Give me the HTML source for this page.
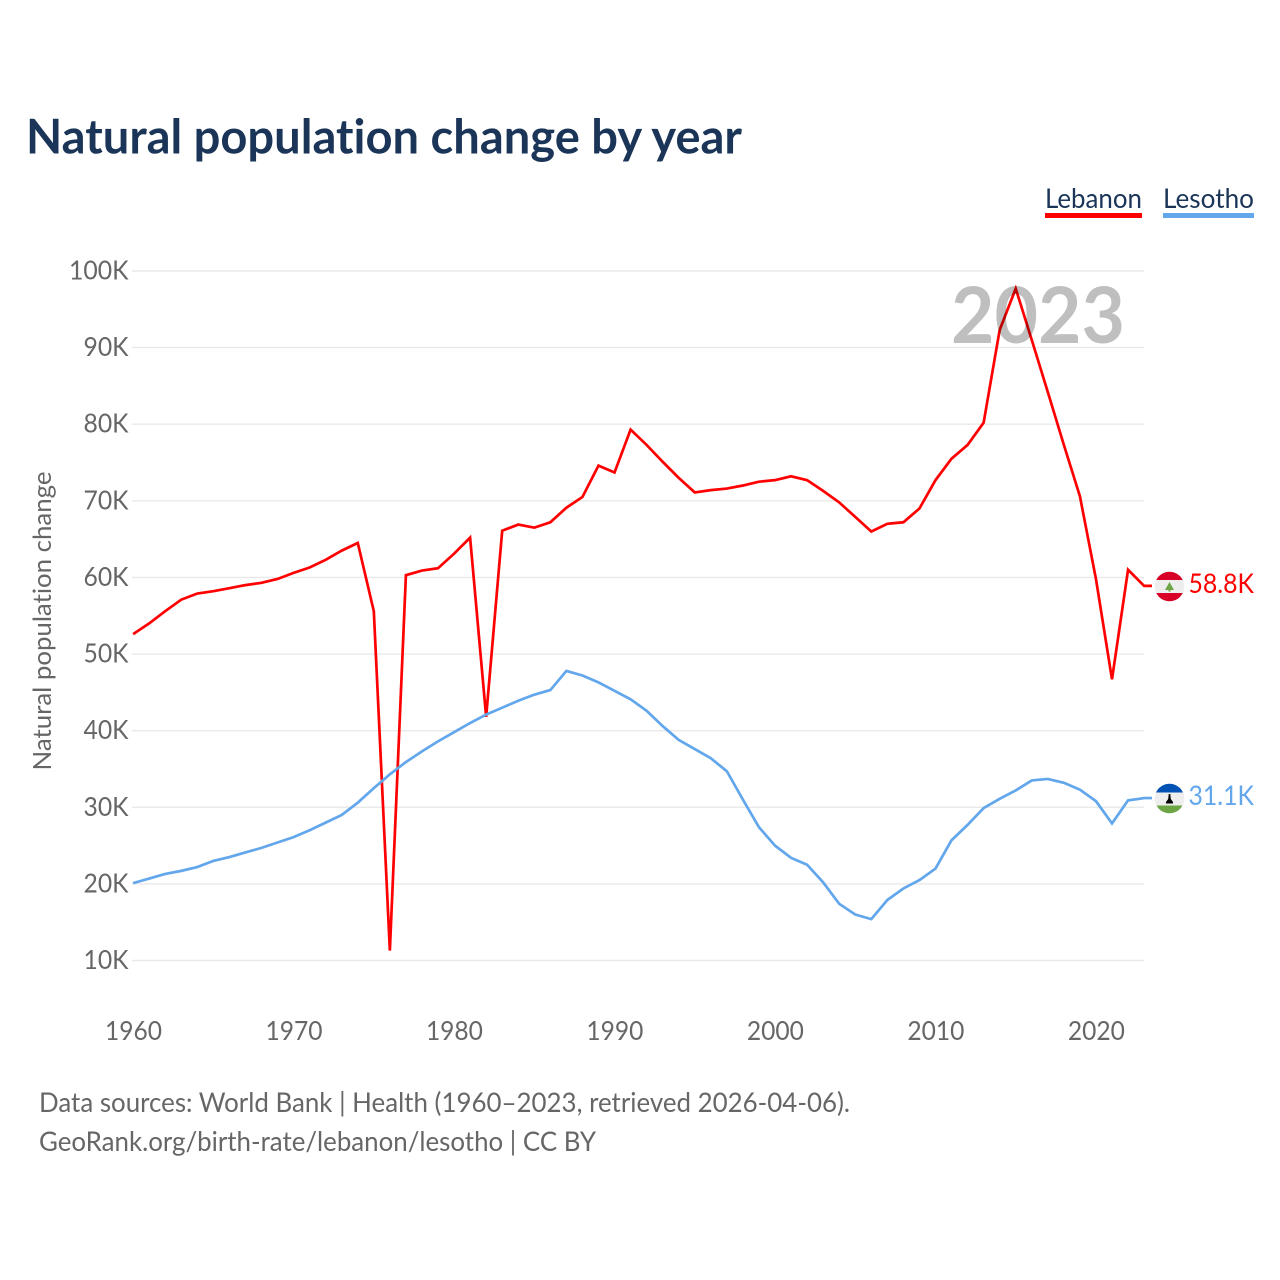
<!DOCTYPE html>
<html lang="en">
<head>
<meta charset="utf-8">
<title>Natural population change by year</title>
<style>
html,body{margin:0;padding:0;background:#fff;width:1280px;height:1280px;overflow:hidden}
svg{display:block}
text{font-family:"Lato","Carlito","Liberation Sans",sans-serif;font-variant-ligatures:none;font-feature-settings:"liga" 0,"clig" 0}
</style>
</head>
<body>
<svg id="chart" xmlns="http://www.w3.org/2000/svg" width="1280" height="1280" viewBox="0 0 1280 1280">
  <rect x="0" y="0" width="1280" height="1280" fill="#ffffff"/>
  <text x="26" y="153.5" font-size="48" font-weight="700" fill="#1a3557" textLength="716" lengthAdjust="spacingAndGlyphs">Natural population change by year</text>
  <g>
    <text x="1045" y="208" font-size="27.5" fill="#1a3557" textLength="97" lengthAdjust="spacingAndGlyphs">Lebanon</text>
    <rect x="1045" y="213" width="97" height="5" fill="#ff0000"/>
  </g>
  <g>
    <text x="1163" y="208" font-size="27.5" fill="#1a3557" textLength="91" lengthAdjust="spacingAndGlyphs">Lesotho</text>
    <rect x="1163" y="213" width="91" height="5" fill="#62a6ec"/>
  </g>
  <g id="grid"></g>
  <g id="yaxis"></g>
  <g id="xaxis"></g>
  <text transform="translate(51,621) rotate(-90)" text-anchor="middle" font-size="25.5" fill="#666666" textLength="299" lengthAdjust="spacingAndGlyphs">Natural population change</text>
  <g id="series"></g>
  <text x="951" y="343" font-size="78" font-weight="700" fill="#000000" fill-opacity="0.25" textLength="174" lengthAdjust="spacingAndGlyphs">2023</text>

  <defs>
    <clipPath id="flag-clip-lb"><circle cx="1169.5" cy="586.5" r="14.8"/></clipPath>
    <clipPath id="flag-clip-ls"><circle cx="1169.5" cy="798.5" r="14.8"/></clipPath>
  </defs>
  <g clip-path="url(#flag-clip-lb)">
    <rect x="1154" y="571" width="31" height="31" fill="#eeeeee"/>
    <rect x="1154" y="571" width="31" height="9" fill="#d80027"/>
    <rect x="1154" y="593" width="31" height="9" fill="#d80027"/>
    <polygon points="1169.5,582 1174,590 1165,590" fill="#6da544"/>
    <rect x="1168.5" y="589" width="2" height="2.5" fill="#6da544"/>
  </g>
  <g clip-path="url(#flag-clip-ls)">
    <rect x="1154" y="783" width="31" height="31" fill="#eeeeee"/>
    <rect x="1154" y="783" width="31" height="9.5" fill="#0052b4"/>
    <rect x="1154" y="805.5" width="31" height="9" fill="#6da544"/>
    <polygon points="1168.7,794 1170.3,794 1170.8,799 1173,802 1173,803.5 1166,803.5 1166,802 1168.2,799" fill="#000000"/>
  </g>
  <text id="value-lb" x="1188.5" y="593" font-size="27" fill="#ff0000" textLength="65.5" lengthAdjust="spacingAndGlyphs">58.8K</text>
  <text id="value-ls" x="1188.5" y="805" font-size="27" fill="#62a6ec" textLength="65.5" lengthAdjust="spacingAndGlyphs">31.1K</text>

  <text x="39" y="1112" font-size="27.5" fill="#666666" textLength="811" lengthAdjust="spacingAndGlyphs">Data sources: World Bank | Health (1960–2023, retrieved 2026-04-06).</text>
  <text x="39" y="1151" font-size="27.5" fill="#666666" textLength="557" lengthAdjust="spacingAndGlyphs">GeoRank.org/birth-rate/lebanon/lesotho | CC BY</text>
</svg>
<script>
const firstYear = 1960;
const lebanon = [52.6,54.0,55.6,57.1,57.9,58.2,58.6,59.0,59.3,59.8,60.6,61.3,62.3,63.5,64.5,55.6,11.3,60.3,60.9,61.2,63.1,65.2,41.8,66.1,66.9,66.5,67.2,69.1,70.5,74.6,73.7,79.3,77.3,75.1,73.0,71.1,71.4,71.6,72.0,72.5,72.7,73.2,72.7,71.3,69.8,67.9,66.0,67.0,67.2,69.0,72.7,75.5,77.3,80.2,92.3,97.7,91.0,84.2,77.3,70.6,59.8,46.7,61.0,58.9];
const lesotho = [20.1,20.7,21.3,21.7,22.2,23.0,23.5,24.1,24.7,25.4,26.1,27.0,28.0,29.0,30.6,32.5,34.3,35.9,37.3,38.6,39.8,41.0,42.1,43.0,43.9,44.7,45.3,47.8,47.2,46.3,45.2,44.1,42.6,40.6,38.8,37.6,36.4,34.7,31.0,27.4,25.0,23.4,22.5,20.2,17.4,16.0,15.4,17.9,19.4,20.5,22.0,25.7,27.7,29.9,31.1,32.2,33.5,33.7,33.2,32.3,30.8,27.9,30.9,31.2];
const yTickValues = [10,20,30,40,50,60,70,80,90,100];
const yTickLabels = ["10K","20K","30K","40K","50K","60K","70K","80K","90K","100K"];
const xTickYears = [1960,1970,1980,1990,2000,2010,2020];

const NS = 'http://www.w3.org/2000/svg';
const xScale = year => 133.1 + (year - 1960) * (1144.1 - 133.1) / 63;
const yScale = value => 960.5 - (value - 10) * (960.5 - 271) / 90;
const make = (tag, parent) => { const el = document.createElementNS(NS, tag); parent.appendChild(el); return el; };

const grid = document.getElementById('grid');
const yaxis = document.getElementById('yaxis');
yTickValues.forEach((v, i) => {
  const line = make('line', grid);
  
  
  line.setAttribute('x1', 132);
  line.setAttribute('x2', 1144);
  line.setAttribute('y1', yScale(v));
  line.setAttribute('y2', yScale(v));
  line.setAttribute('stroke', '#e9e9e9');
  line.setAttribute('stroke-width', '1.4');
  const label = make('text', yaxis);
  
  
  label.setAttribute('x', 128.5);
  label.setAttribute('y', yScale(v) + 8.5);
  label.setAttribute('text-anchor', 'end');
  label.setAttribute('font-size', '26');
  label.setAttribute('fill', '#666666');
  label.setAttribute('textLength', yTickLabels[i].length === 4 ? 59.5 : 45);
  label.setAttribute('lengthAdjust', 'spacingAndGlyphs');
  label.textContent = yTickLabels[i];
});

const xaxis = document.getElementById('xaxis');
xTickYears.forEach(y => {
  const label = make('text', xaxis);
  
  
  label.setAttribute('x', xScale(y) + 0.4);
  label.setAttribute('y', 1040);
  label.setAttribute('text-anchor', 'middle');
  label.setAttribute('font-size', '26');
  label.setAttribute('fill', '#666666');
  label.setAttribute('textLength', 57);
  label.setAttribute('lengthAdjust', 'spacingAndGlyphs');
  label.textContent = String(y);
});

const series = document.getElementById('series');
function drawSeries(values, color) {
  let d = values.map((v, i) => (i ? 'L' : 'M') + xScale(firstYear + i).toFixed(2) + ' ' + yScale(v).toFixed(2)).join(' ');
  d += ' L 1152 ' + yScale(values[values.length - 1]).toFixed(2);
  const path = make('path', series);
  path.setAttribute('d', d);
  path.setAttribute('fill', 'none');
  path.setAttribute('stroke', color);
  path.setAttribute('stroke-width', '2.7');
  path.setAttribute('stroke-linejoin', 'miter');
  return path;
}
const lebanonLine = drawSeries(lebanon, '#ff0000');


const lesothoLine = drawSeries(lesotho, '#62a6ec');


</script>
</body>
</html>
